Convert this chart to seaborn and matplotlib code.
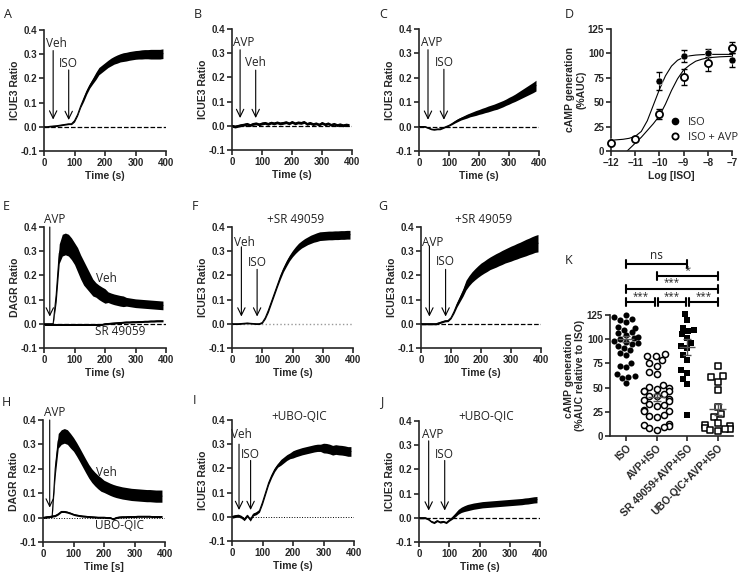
import numpy as np
import pandas as pd
import matplotlib
matplotlib.use("Agg")
import matplotlib.pyplot as plt
from matplotlib.lines import Line2D
import seaborn as sns

sns.set_theme(style="ticks")
plt.rcParams["font.family"] = ["Liberation Sans", "DejaVu Sans"]
plt.rcParams.update({
    "font.weight": "bold", "axes.labelweight": "bold",
    "axes.linewidth": 1.2, "xtick.major.width": 1.2, "ytick.major.width": 1.2,
    "xtick.major.size": 3.5, "ytick.major.size": 3.5,
    "xtick.labelsize": 7, "ytick.labelsize": 7, "axes.labelsize": 7.5,
    "xtick.major.pad": 1.5, "ytick.major.pad": 1.5,
})
ANN = dict(family=["Open Sans", "DejaVu Sans"], weight="normal", color="#222222")

# ---- time traces (s), mean and half band width ----
t = np.arange(0, 400, 10)

a_mean = [0, 0, .002, .003, .004, .006, .008, .010, .012, .012, .025, .050, .085, .115, .145, .170, .190, .210, .230, .240,
          .250, .260, .268, .275, .280, .285, .288, .290, .293, .295, .297, .298, .299, .300, .300, .300, .300, .300, .300, .302]
a_band = [.003] * 10 + [.005, .005, .006, .01, .01, .01, .012, .015, .015, .015,
          .015, .015, .016, .016, .017, .017, .018, .018, .018, .018, .018, .018, .019, .019, .019, .02, .02, .02, .02, .02]

b_mean = [0, -.003, 0, .003, .005, .008, .003, .008, .010, .006, .010, .012, .008, .013, .010, .014, .010, .012, .015, .010,
          .016, .010, .014, .012, .016, .008, .012, .007, .010, .005, .012, .006, .010, .004, .008, .003, .006, .002, .005, .003]
b_band = [.006] * 40

c_mean = [0, 0, 0, -.005, -.010, -.012, -.010, -.010, -.005, 0, .005, .012, .020, .027, .033, .038, .043, .048, .052, .056,
          .060, .064, .068, .072, .076, .080, .084, .089, .094, .100, .106, .112, .118, .125, .132, .139, .146, .153, .160, .168]
c_band = [.003] * 11 + [.004, .005, .006, .006, .007, .008, .008, .009, .01, .01, .011, .011, .012, .012, .012,
          .013, .013, .013, .013, .014, .014, .015, .016, .017, .018, .019, .02, .021, .022]

e_veh = [0, 0, 0, 0, .12, .29, .325, .33, .325, .31, .29, .265, .235, .21, .19, .17, .15, .14, .13, .122,
         .115, .11, .105, .101, .098, .095, .093, .091, .089, .087, .085, .084, .083, .082, .081, .080, .079, .078, .077, .076]
e_veh_band = [.003] * 4 + [.03, .04, .045, .045, .045, .045, .045, .05, .05, .05, .045, .04, .035, .03, .03, .03,
              .03, .022, .022, .022, .022, .022, .022] + [.018] * 13
e_sr = [-.003] * 20 + [0, .001, .002, .003, .004, .005, .006, .007, .007, .008, .008, .009, .009, .010, .010, .011, .011, .012, .012, .012]
e_sr_band = [.004] * 40

f_mean = [0, 0, 0, .001, .002, .003, .002, .001, 0, 0, .005, .025, .055, .090, .125, .160, .195, .225, .250, .272,
          .290, .305, .318, .328, .336, .343, .349, .354, .358, .362, .363, .364, .365, .365, .366, .366, .367, .367, .368, .368]
f_band = [.003] * 11 + [.005, .008, .008, .008, .008, .01, .01, .012, .012, .013, .014, .015, .015, .016, .016,
          .017, .017] + [.018] * 12

g_mean = [0, 0, 0, 0, 0, 0, .004, .008, .012, .013, .025, .050, .080, .105, .130, .160, .178, .193, .205, .216,
          .226, .234, .242, .250, .256, .262, .268, .274, .280, .285, .290, .295, .300, .305, .310, .315, .320, .325, .330, .333]
g_band = [.004] * 11 + [.007, .01, .013, .016, .02, .021, .022, .023, .024, .025, .025, .026, .026, .027, .028,
          .028, .029, .029, .030, .031, .031, .032, .032, .033, .034, .034, .035, .035, .036]

h_veh = [0, .002, .003, .004, .20, .315, .33, .335, .33, .315, .30, .28, .258, .235, .212, .19, .172, .158, .146, .136,
         .128, .122, .116, .111, .107, .104, .101, .099, .097, .095, .094, .093, .092, .091, .090, .090, .089, .088, .088, .088]
h_veh_band = [.003] * 4 + [.03] * 6 + [.028] * 10 + [.025] * 20
h_ubo = [0, .002, .004, .006, .008, .015, .025, .025, .022, .018, .013, .010, .008, .006, .005, .004, .003, .002, .001, .001,
         .001, 0, 0, -.006, 0, .002, .003, .003, .004, .004, .004, .005, .005, .005, .005, .005, .004, .004, .004, .004]
h_ubo_band = [.004] * 40

i_mean = [0, .003, .005, 0, -.010, .005, -.012, .010, .015, .025, .060, .100, .140, .170, .195, .213, .225, .235, .245, .252,
          .258, .263, .267, .271, .274, .277, .280, .283, .285, .285, .284, .283, .280, .275, .278, .276, .275, .273, .270, .270]
i_band = [.006] * 10 + [.008] * 6 + [.012] * 4 + [.015] * 10 + [.02] * 10

j_mean = [0, 0, 0, -.005, -.015, -.020, -.012, -.018, -.015, -.020, -.010, 0, .012, .025, .033, .038, .042, .045, .048, .050,
          .052, .054, .055, .056, .057, .058, .059, .060, .061, .062, .063, .064, .065, .066, .067, .069, .070, .072, .074, .075]
j_band = [.004] * 11 + [.006, .008, .01, .011, .012] + [.013] * 24

# ---- dose response (panel D) ----
log_iso = [-12, -11, -10, -9, -8, -7]
iso_pts = [9.5, 12, 72, 97, 100, 93.5]
iso_err = [0, 0, 9, 6, 4, 7]
avp_pts = [8, 12, 38, 76, 90, 106]
avp_err = [0, 0, 5, 8, 8, 6]
fit_x = [-12, -11.75, -11.5, -11.25, -11, -10.75, -10.5, -10.25, -10, -9.75, -9.5, -9.25, -9, -8.75, -8.5, -8.25, -8, -7.5, -7]
fit_iso = [11, 11.5, 12, 13, 15, 20, 31, 47, 63, 77, 87, 93, 96, 97.5, 98.3, 98.7, 99, 99, 99]
fit_avp = [-12, -8, -4, 2, 8, 14, 21, 28, 36, 48, 62, 74, 83, 88, 92, 94, 95.5, 96.5, 97]

# ---- scatter (panel K) ----
k_groups = ["ISO", "AVP+ISO", "SR 49059+AVP+ISO", "UBO-QIC+AVP+ISO"]
k_iso = [125, 123, 121, 120, 118, 113, 112, 110, 107, 106, 104, 102, 101, 100, 98, 97, 96, 95, 93, 91, 89, 86, 84,
         75, 72, 71, 64, 62, 61, 60, 55]
k_avp = [85, 83, 83, 78, 75, 72, 66, 64, 53, 51, 50, 49, 47, 46, 46, 43, 41, 41, 38, 37, 36, 33, 32, 31, 27, 26, 26,
         22, 21, 20, 12, 11, 10, 9, 8, 6]
k_sr = [126, 120, 112, 110, 108, 105, 101, 96, 93, 91, 84, 79, 68, 65, 59, 54, 22]
k_ubo = [72, 62, 61, 56, 48, 30, 23, 20, 13, 11, 10, 8, 7, 7, 6, 5]
k_mean = [100, 40, 92, 27.5]
k_sem = [3, 3.5, 8, 6]

W, H = 747, 576
fig = plt.figure(figsize=(W / 100, H / 100), dpi=100)


def add_ax(l, tp, r, b):
    ax = fig.add_axes([l / W, 1 - b / H, (r - l) / W, (b - tp) / H])
    sns.despine(ax=ax)
    return ax


def trace_ax(ax, traces, ylabel="ICUE3 Ratio", xlabel="Time (s)", zero=("--", "black", 0.9)):
    ls, col, lw = zero
    ax.axhline(0, ls=ls, color=col, lw=lw, zorder=1)
    for m, bnd in traces:
        m = np.array(m); bnd = np.array(bnd)
        ax.fill_between(t, m - bnd, m + bnd, color="black", lw=0, zorder=2)
        sns.lineplot(x=t, y=m, ax=ax, color="black", lw=0.8, zorder=3)
    ax.set_xlim(0, 400); ax.set_ylim(-0.1, 0.4)
    ax.set_xticks([0, 100, 200, 300, 400])
    ax.set_yticks([-0.1, 0, 0.1, 0.2, 0.3, 0.4])
    ax.set_yticklabels(["-0.1", "0.0", "0.1", "0.2", "0.3", "0.4"])
    ax.set_ylabel(ylabel, labelpad=0.5)
    ax.set_xlabel(xlabel, labelpad=2)


def arrow(ax, x, top, tip, label, ty, tx=None):
    ax.annotate("", xy=(x, tip), xytext=(x, top),
                arrowprops=dict(arrowstyle="->,head_length=0.45,head_width=0.22", color="black", lw=0.8,
                                shrinkA=0, shrinkB=0), annotation_clip=False)
    ax.text(x if tx is None else tx, ty, label, ha="center", va="center", fontsize=8.5, clip_on=False, **ANN)


axA = add_ax(44, 30, 166, 151)
trace_ax(axA, [(a_mean, a_band)])
arrow(axA, 30, 0.315, 0.03, "Veh", 0.345, 42)
arrow(axA, 81, 0.235, 0.028, "ISO", 0.262)

axB = add_ax(232, 29, 352, 150)
trace_ax(axB, [(b_mean, b_band)])
arrow(axB, 27, 0.314, 0.032, "AVP", 0.343, 40)
arrow(axB, 79, 0.23, 0.032, "Veh", 0.26)

axC = add_ax(419, 29, 539, 151)
trace_ax(axC, [(c_mean, c_band)])
arrow(axC, 30, 0.315, 0.028, "AVP", 0.345, 42)
arrow(axC, 83, 0.235, 0.028, "ISO", 0.262)

axE = add_ax(44, 227, 166, 348)
trace_ax(axE, [(e_veh, e_veh_band), (e_sr, e_sr_band)], ylabel="DAGR Ratio")
arrow(axE, 19, 0.4, 0.03, "AVP", 0.43, 34)
axE.text(205, 0.188, "Veh", ha="center", va="center", fontsize=8.5, **ANN)
axE.text(250, -0.03, "SR 49059", ha="center", va="center", fontsize=8.5, **ANN)

axF = add_ax(232, 227, 353, 348)
trace_ax(axF, [(f_mean, f_band)], zero=(":", "#999999", 1.0))
arrow(axF, 31, 0.318, 0.03, "Veh", 0.335, 40)
arrow(axF, 83, 0.225, 0.03, "ISO", 0.252)
axF.text(210, 0.43, "+SR 49059", ha="center", va="center", fontsize=8.5, clip_on=False, **ANN)

axG = add_ax(421, 227, 541, 348)
trace_ax(axG, [(g_mean, g_band)])
arrow(axG, 28, 0.322, 0.03, "AVP", 0.338, 40)
arrow(axG, 82, 0.225, 0.03, "ISO", 0.256)
axG.text(210, 0.43, "+SR 49059", ha="center", va="center", fontsize=8.5, clip_on=False, **ANN)

axH = add_ax(43, 420, 165, 542)
trace_ax(axH, [(h_veh, h_veh_band), (h_ubo, h_ubo_band)], ylabel="DAGR Ratio", xlabel="Time [s]",
         zero=(":", "black", 0.7))
arrow(axH, 22, 0.4, 0.041, "AVP", 0.43, 38)
axH.text(208, 0.186, "Veh", ha="center", va="center", fontsize=8.5, **ANN)
axH.text(252, -0.032, "UBO-QIC", ha="center", va="center", fontsize=8.5, **ANN)

axI = add_ax(232, 420, 354, 541)
trace_ax(axI, [(i_mean, i_band)], zero=(":", "black", 0.7))
arrow(axI, 23, 0.30, 0.028, "Veh", 0.34, 32)
arrow(axI, 61, 0.233, 0.028, "ISO", 0.257)
axI.text(219, 0.414, "+UBO-QIC", ha="center", va="center", fontsize=8.5, clip_on=False, **ANN)

axJ = add_ax(419, 421, 540, 542)
trace_ax(axJ, [(j_mean, j_band)])
arrow(axJ, 32, 0.318, 0.03, "AVP", 0.345, 44)
arrow(axJ, 85, 0.237, 0.03, "ISO", 0.262)
axJ.text(223, 0.418, "+UBO-QIC", ha="center", va="center", fontsize=8.5, clip_on=False, **ANN)

# ---- D: dose response ----
axD = add_ax(611, 29, 732, 151)
sns.lineplot(x=fit_x, y=fit_iso, ax=axD, color="black", lw=0.8)
sns.lineplot(x=fit_x, y=fit_avp, ax=axD, color="black", lw=0.8)
axD.errorbar(log_iso, iso_pts, yerr=iso_err, fmt="none", ecolor="black", elinewidth=0.8, capsize=2.5, clip_on=False)
axD.errorbar(log_iso, avp_pts, yerr=avp_err, fmt="none", ecolor="black", elinewidth=0.8, capsize=2.5, clip_on=False)
sns.scatterplot(x=log_iso, y=iso_pts, ax=axD, color="black", s=26, zorder=4, clip_on=False)
sns.scatterplot(x=log_iso, y=avp_pts, ax=axD, color="white", edgecolor="black", linewidth=1.3, s=26, zorder=5, clip_on=False)
axD.set_xlim(-12, -7); axD.set_ylim(0, 125)
axD.set_xticks([-12, -11, -10, -9, -8, -7]); axD.set_yticks([0, 25, 50, 75, 100, 125])
axD.set_xlabel("Log [ISO]", labelpad=2)
axD.set_ylabel("cAMP generation\n(%AUC)", labelpad=1)
handles = [Line2D([], [], ls="none", marker="o", color="black", ms=4.5),
           Line2D([], [], ls="none", marker="o", mfc="white", mec="black", mew=1.3, ms=4.5)]
axD.legend(handles, ["ISO", "ISO + AVP"], loc="lower left", bbox_to_anchor=(0.45, 0.03), frameon=False,
           prop=dict(family=["Open Sans", "DejaVu Sans"], weight="normal", size=8), handletextpad=0.6,
           labelspacing=0.35, borderaxespad=0, handlelength=1)

# ---- K: scatter ----
axK = add_ax(610, 315, 733, 436)
dfK = pd.DataFrame({"group": [k_groups[0]] * len(k_iso) + [k_groups[1]] * len(k_avp)
                    + [k_groups[2]] * len(k_sr) + [k_groups[3]] * len(k_ubo),
                    "val": k_iso + k_avp + k_sr + k_ubo})
styles = [("o", "black"), ("o", "white"), ("s", "black"), ("s", "white")]
for g, (mk, fc) in zip(k_groups, styles):
    sub = dfK[dfK["group"] == g]
    sns.swarmplot(data=sub, x="group", y="val", order=k_groups, ax=axK, marker=mk, color=fc,
                  edgecolor="black", linewidth=1.1 if fc == "white" else 0, size=4.4, clip_on=False)
for i, (m, s) in enumerate(zip(k_mean, k_sem)):
    axK.hlines(m, i - 0.27, i + 0.27, color="#555555", lw=1, zorder=6)
    axK.errorbar(i, m, yerr=s, fmt="none", ecolor="#555555", elinewidth=1, capsize=3, zorder=6)
axK.set_xlim(-0.52, 3.5); axK.set_ylim(0, 125)
axK.set_yticks([0, 25, 50, 75, 100, 125])
axK.set_xlabel(""); axK.set_ylabel("cAMP generation\n(%AUC relative to ISO)", labelpad=1)
axK.set_xticks(range(4))
axK.set_xticklabels(k_groups, rotation=45, ha="right", rotation_mode="anchor", fontsize=7.5)


def bracket(x0, x1, y, label, ty, fs=7):
    axK.plot([x0, x1], [y, y], color="black", lw=1.5, clip_on=False)
    for xx in (x0, x1):
        axK.plot([xx, xx], [y - 4, y + 4], color="black", lw=1.5, clip_on=False)
    axK.text((x0 + x1) / 2, ty, label, ha="center", va="center", fontsize=fs, clip_on=False, **ANN)


bracket(0, 2, 178, "ns", 186, 8.5)
bracket(1, 3, 165, "*", 170.5, 8)
bracket(0, 3, 152, "***", 158)
bracket(0, 0.95, 138.5, "***", 144)
bracket(1.05, 1.95, 138.5, "***", 144)
bracket(2.05, 3, 138.5, "***", 144)

# ---- panel letters ----
letters = {"A": (8, 15), "B": (198, 15), "C": (383, 15), "D": (569, 15), "E": (6, 207), "F": (195, 206),
           "G": (383, 206), "H": (6, 402), "I": (194, 400), "J": (382, 402), "K": (569, 261)}
for k, (x, y) in letters.items():
    fig.text(x / W, 1 - y / H, k, fontsize=9, va="center", ha="center", **ANN)

plt.savefig("out.png", dpi=100)
